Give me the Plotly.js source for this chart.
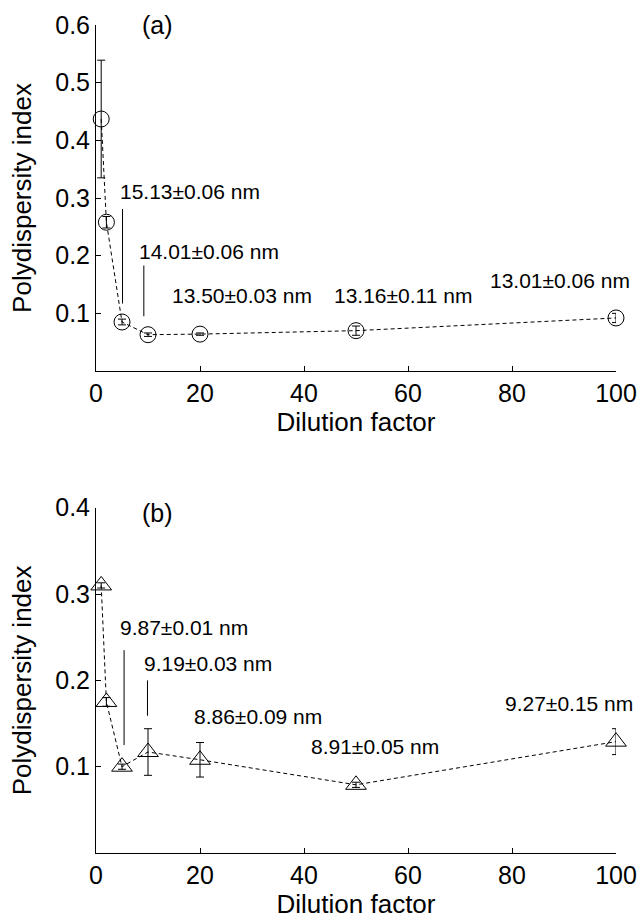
<!DOCTYPE html>
<html>
<head>
<meta charset="utf-8">
<script src="https://cdn.plot.ly/plotly-3.0.1.min.js"></script>
<style>html,body{margin:0;padding:0;background:#fff;}#chart{width:641px;height:921px;}</style>
</head>
<body>
<div id="chart"></div>
<script>
// ---- Data ----
const dilution = [1, 2, 5, 10, 20, 50, 100];

// Panel (a)
const pdiA = [0.437, 0.258, 0.085, 0.063, 0.064, 0.070, 0.092];
const errA = [0.102, 0.010, 0.005, 0.003, 0.002, 0.008, 0.008];
const labelsA = ["15.13\u00b10.06 nm", "14.01\u00b10.06 nm", "13.50\u00b10.03 nm", "13.16\u00b10.11 nm", "13.01\u00b10.06 nm"];

// Panel (b)
const pdiB = [0.310, 0.175, 0.100, 0.117, 0.108, 0.079, 0.129];
const errB = [0.003, 0.005, 0.003, 0.027, 0.020, 0.003, 0.015];
const labelsB = ["9.87\u00b10.01 nm", "9.19\u00b10.03 nm", "8.86\u00b10.09 nm", "8.91\u00b10.05 nm", "9.27\u00b10.15 nm"];

const xTicks = [0, 20, 40, 60, 80, 100];
const yTicksA = [0.1, 0.2, 0.3, 0.4, 0.5, 0.6];
const yTicksB = [0.1, 0.2, 0.3, 0.4];

// ---- Label placement (data coords) ----
const labelPosA = [
  {x: 4.2, y: 0.312, anchor: 'left'},
  {x: 7.9, y: 0.207, anchor: 'left'},
  {x: 14.2, y: 0.131, anchor: 'left'},
  {x: 59.0, y: 0.131, anchor: 'center'},
  {x: 89.2, y: 0.157, anchor: 'center'}
];
const labelPosB = [
  {x: 4.2, y: 0.261, anchor: 'left'},
  {x: 8.8, y: 0.219, anchor: 'left'},
  {x: 18.4, y: 0.158, anchor: 'left'},
  {x: 53.7, y: 0.123, anchor: 'center'},
  {x: 91.0, y: 0.173, anchor: 'center'}
];
const leadersA = [{x: 5.1, y0: 0.117, y1: 0.281}, {x: 9.2, y0: 0.095, y1: 0.183}];
const leadersB = [{x: 5.4, y0: 0.125, y1: 0.235}, {x: 9.9, y0: 0.159, y1: 0.200}];

const FONT = "Liberation Sans, Arial, Helvetica, sans-serif";

function trace(y, err, sym, size, xa, ya) {
  return {
    x: dilution, y: y, xaxis: xa, yaxis: ya,
    type: 'scatter', mode: 'lines+markers', cliponaxis: false,
    line: {color: 'black', width: 1, dash: '4px,3px'},
    marker: {symbol: sym, size: size, color: 'black', line: {color: 'black', width: 1}},
    error_y: {type: 'data', array: err, visible: true, color: 'black', thickness: 1, width: 4},
    showlegend: false, hoverinfo: 'skip'
  };
}

const data = [
  trace(pdiA, errA, 'circle-open', 16, 'x', 'y'),
  trace(pdiB, errB, 'triangle-up-open', 18, 'x2', 'y2')
];

function xaxis(anchor) {
  return {
    anchor: anchor, domain: [0, 1], range: [0, 100], tickvals: xTicks,
    ticks: 'inside', ticklen: 5, tickcolor: 'black', showline: true, linecolor: 'black', linewidth: 1,
    showgrid: false, zeroline: false, tickfont: {family: FONT, size: 25, color: 'black'},
    title: {text: 'Dilution factor', font: {family: FONT, size: 26, color: 'black'}, standoff: 6}
  };
}
function yaxis(anchor, domain, range, ticks) {
  return {
    anchor: anchor, domain: domain, range: range, tickvals: ticks, ticktext: ticks.map(v => v.toFixed(1)),
    ticks: 'inside', ticklen: 5, tickcolor: 'black', showline: true, linecolor: 'black', linewidth: 1,
    showgrid: false, zeroline: false, tickfont: {family: FONT, size: 25, color: 'black'},
    title: {text: 'Polydispersity index', font: {family: FONT, size: 26, color: 'black'}, standoff: 16}
  };
}

const annotations = [];
labelsA.forEach((t, i) => annotations.push({
  x: labelPosA[i].x, y: labelPosA[i].y, xref: 'x', yref: 'y', text: t, showarrow: false,
  xanchor: labelPosA[i].anchor, yanchor: 'middle', font: {family: FONT, size: 21, color: 'black'}
}));
labelsB.forEach((t, i) => annotations.push({
  x: labelPosB[i].x, y: labelPosB[i].y, xref: 'x2', yref: 'y2', text: t, showarrow: false,
  xanchor: labelPosB[i].anchor, yanchor: 'middle', font: {family: FONT, size: 21, color: 'black'}
}));
annotations.push({x: 11.9, y: 0.6, xref: 'x', yref: 'y', text: '(a)', showarrow: false,
  xanchor: 'center', yanchor: 'middle', font: {family: FONT, size: 25, color: 'black'}});
annotations.push({x: 11.9, y: 0.394, xref: 'x2', yref: 'y2', text: '(b)', showarrow: false,
  xanchor: 'center', yanchor: 'middle', font: {family: FONT, size: 25, color: 'black'}});

const shapes = [];
leadersA.forEach(l => shapes.push({type: 'line', xref: 'x', yref: 'y', x0: l.x, x1: l.x, y0: l.y0, y1: l.y1, line: {color: 'black', width: 1}}));
leadersB.forEach(l => shapes.push({type: 'line', xref: 'x2', yref: 'y2', x0: l.x, x1: l.x, y0: l.y0, y1: l.y1, line: {color: 'black', width: 1}}));

const layout = {
  width: 641, height: 921,
  margin: {l: 96, r: 25, t: 25, b: 68},
  paper_bgcolor: 'white', plot_bgcolor: 'white',
  xaxis: xaxis('y'),
  yaxis: yaxis('x', [0.5821, 1], [0, 0.6], yTicksA),
  xaxis2: xaxis('y2'),
  yaxis2: yaxis('x2', [0, 0.417], [0, 0.4], yTicksB),
  annotations: annotations,
  shapes: shapes
};

Plotly.newPlot('chart', data, layout, {displayModeBar: false, staticPlot: true});
</script>
</body>
</html>
